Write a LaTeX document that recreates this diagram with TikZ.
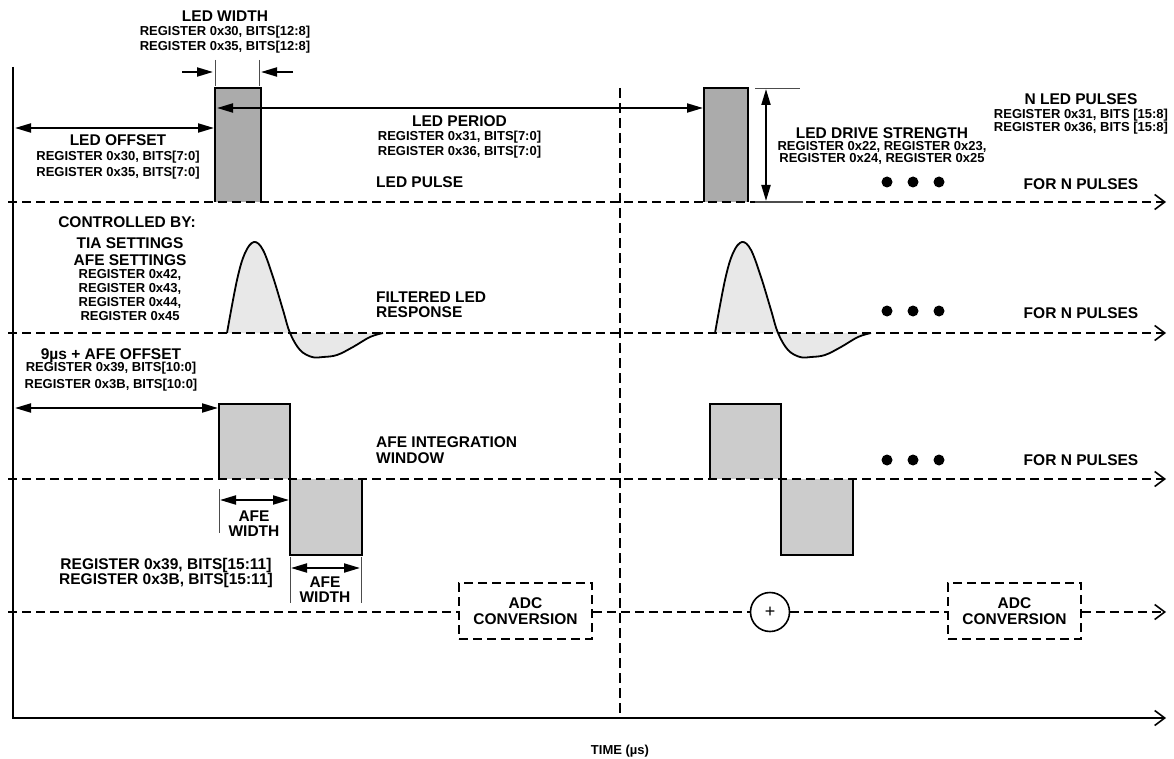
\documentclass[tikz,border=0pt]{standalone}
\usepackage{fontspec}
\setmainfont{Liberation Sans}
\usetikzlibrary{arrows.meta}
\tikzset{
  big/.style={font=\fontsize{15.5}{16}\selectfont\bfseries, inner sep=0pt, anchor=base},
  reg/.style={font=\fontsize{13}{15}\selectfont\bfseries, inner sep=0pt, anchor=base},
  basedash/.style={line width=1.7pt, dash pattern=on 9pt off 5pt},
  openarrow/.style={-{Straight Barb[length=10pt,width=15pt,line width=1.6pt]}},
  dimarrow/.style={line width=2pt, {Triangle[length=16pt,width=9pt]}-{Triangle[length=16pt,width=9pt]}},
  onearrow/.style={line width=2pt, -{Triangle[length=16pt,width=9pt]}},
  tick/.style={line width=1pt, draw=black!70},
  ledfill/.style={fill=black!33},
  afefill/.style={fill=black!20},
  wavefill/.style={fill=black!9},
  edge/.style={line width=2pt, line join=miter},
  adcbox/.style={draw, basedash, minimum width=133pt, minimum height=56pt, align=center,
     font=\fontsize{15.5}{16}\selectfont\bfseries, inner sep=0pt},
  sumnode/.style={circle, draw, line width=1.6pt, minimum size=39pt, inner sep=0pt,
     font=\fontsize{18}{18}\selectfont},
  dot/.style={circle, fill=black, inner sep=0pt, minimum size=11pt},
}
\begin{document}
\begin{tikzpicture}[x=1pt,y=-1pt]
\useasboundingbox (0,0) rectangle (1174,759);

% ---------- coordinates ----------
\coordinate (axtop) at (13,67);
\coordinate (axorg) at (13,718);
\coordinate (axend) at (1166,718);
\coordinate (vtop) at (620,88);
\coordinate (vbot) at (620,718);

% ---------- fills ----------
\fill[ledfill] (215,88) rectangle (261,202);
\fill[ledfill] (704,88) rectangle (748,202);
\fill[afefill] (219,404) rectangle (290,479);
\fill[afefill] (290,479) rectangle (362,555);
\fill[afefill] (710,404) rectangle (781,479);
\fill[afefill] (781,479) rectangle (853,555);
\foreach \s in {0,488}{
  \begin{scope}[xshift=\s pt]
  \fill[wavefill] plot[smooth, tension=0.6] coordinates {(227,333) (237,280) (245,253) (254,242) (263,250) (273,277) (283,310) (290,333) (300,350) (312,357) (323,357) (337,355) (353,347) (370,337) (383,333)} -- cycle;
  \end{scope}
}

% ---------- axes ----------
\draw[line width=2pt, openarrow] (axtop) -- (axorg) -- (axend);
\draw[line width=1.2pt, dash pattern=on 10pt off 5pt] (vtop) -- (vbot);

% ---------- baselines ----------
\coordinate (b1s) at (8,202);  \coordinate (b1e) at (1166,202);
\coordinate (b2s) at (8,333);  \coordinate (b2e) at (1166,333);
\coordinate (b3s) at (8,479);  \coordinate (b3e) at (1166,479);
\coordinate (b4s) at (8,612);  \coordinate (b4e) at (1166,612);
\draw[basedash, openarrow] (b1s) -- (b1e);
\draw[basedash, openarrow] (b2s) -- (b2e);
\draw[basedash, openarrow] (b3s) -- (b3e);

% ---------- LED pulses ----------
\draw[edge] (215,202) -- (215,88) -- (261,88) -- (261,202);
\draw[edge] (704,202) -- (704,88) -- (748,88) -- (748,202);

% ---------- waveforms ----------
\foreach \s in {0,488}{
  \begin{scope}[xshift=\s pt]
  \draw[line width=1.8pt] plot[smooth, tension=0.6] coordinates {(227,333) (237,280) (245,253) (254,242) (263,250) (273,277) (283,310) (290,333) (300,350) (312,357) (323,357) (337,355) (353,347) (370,337) (383,333)};
  \end{scope}
}

% ---------- AFE windows ----------
\draw[edge] (219,479) -- (219,404) -- (290,404) -- (290,555) -- (362,555) -- (362,479);
\draw[edge] (710,479) -- (710,404) -- (781,404) -- (781,555) -- (853,555) -- (853,479);

% ---------- LED width ----------
\coordinate (lw1t) at (215,60); \coordinate (lw1b) at (215,86);
\coordinate (lw2t) at (259,60); \coordinate (lw2b) at (259,86);
\draw[tick] (lw1t) -- (lw1b);
\draw[tick] (lw2t) -- (lw2b);
\coordinate (lwa1) at (182,72); \coordinate (lwa2) at (213,72);
\coordinate (lwb1) at (293,72); \coordinate (lwb2) at (261,72);
\draw[onearrow] (lwa1) -- (lwa2);
\draw[onearrow] (lwb1) -- (lwb2);
\node[big] (lwt) at (225,21.5) {LED WIDTH};
\node[reg] (lwr1) at (225,35.7) {REGISTER 0x30, BITS[12:8]};
\node[reg] (lwr2) at (225,50.7) {REGISTER 0x35, BITS[12:8]};

% ---------- LED offset ----------
\coordinate (lo1) at (15,128); \coordinate (lo2) at (214,128);
\draw[dimarrow] (lo1) -- (lo2);
\node[big] (lot) at (118,145.5) {LED OFFSET};
\node[reg] (lor1) at (118,160.7) {REGISTER 0x30, BITS[7:0]};
\node[reg] (lor2) at (118,176.7) {REGISTER 0x35, BITS[7:0]};

% ---------- LED period ----------
\coordinate (lp1) at (217,108); \coordinate (lp2) at (703,108);
\draw[dimarrow] (lp1) -- (lp2);
\node[big] (lpt) at (459.5,126.5) {LED PERIOD};
\node[reg] (lpr1) at (459.5,140.7) {REGISTER 0x31, BITS[7:0]};
\node[reg] (lpr2) at (459.5,155.7) {REGISTER 0x36, BITS[7:0]};
\node[big, anchor=base west] (lpulse) at (376,187.5) {LED PULSE};

% ---------- LED drive strength ----------
\coordinate (ds1) at (755,89); \coordinate (ds2) at (800,89);
\coordinate (ds3) at (755,202); \coordinate (ds4) at (803,202);
\draw[tick] (ds1) -- (ds2);
\draw[tick, line width=1.5pt] (ds3) -- (ds4);
\coordinate (dsa) at (766,89); \coordinate (dsb) at (766,201);
\draw[dimarrow] (dsa) -- (dsb);
\node[big] (dst) at (882,138.5) {LED DRIVE STRENGTH};
\node[reg] (dsr1) at (882,150.7) {REGISTER 0x22, REGISTER 0x23,};
\node[reg] (dsr2) at (882,162.7) {REGISTER 0x24, REGISTER 0x25};

% ---------- N LED pulses ----------
\node[big] (nlt) at (1081,104.5) {N LED PULSES};
\node[reg] (nlr1) at (1081,118.7) {REGISTER 0x31, BITS [15:8]};
\node[reg] (nlr2) at (1081,131.7) {REGISTER 0x36, BITS [15:8]};

% ---------- dots and FOR N PULSES ----------
\foreach \yy/\n in {182/1,311/2,460/3}{
  \node[dot] (d\n a) at (887,\yy) {};
  \node[dot] (d\n b) at (913,\yy) {};
  \node[dot] (d\n c) at (939,\yy) {};
}
\node[big] (fn1) at (1081,189.5) {FOR N PULSES};
\node[big] (fn2) at (1081,318.5) {FOR N PULSES};
\node[big] (fn3) at (1081,465.5) {FOR N PULSES};

% ---------- controlled by ----------
\node[big] (cb) at (127,227.5) {CONTROLLED BY:};
\node[big] (tia) at (130,248.5) {TIA SETTINGS};
\node[big] (afes) at (130,265.5) {AFE SETTINGS};
\node[reg] (cr1) at (130,278.2) {REGISTER 0x42,};
\node[reg] (cr2) at (130,292.2) {REGISTER 0x43,};
\node[reg] (cr3) at (130,306.2) {REGISTER 0x44,};
\node[reg] (cr4) at (130,320.2) {REGISTER 0x45};
\node[big, anchor=base west] (flr1) at (376,302.5) {FILTERED LED};
\node[big, anchor=base west] (flr2) at (376,317.5) {RESPONSE};

% ---------- AFE offset ----------
\node[big] (aot) at (111,359.5) {9µs + AFE OFFSET};
\node[reg] (aor1) at (111,371.7) {REGISTER 0x39, BITS[10:0]};
\node[reg] (aor2) at (111,388.7) {REGISTER 0x3B, BITS[10:0]};
\coordinate (ao1) at (15,408); \coordinate (ao2) at (218,408);
\draw[dimarrow] (ao1) -- (ao2);
\node[big, anchor=base west] (aiw1) at (376,447.5) {AFE INTEGRATION};
\node[big, anchor=base west] (aiw2) at (376,463.5) {WINDOW};

% ---------- AFE widths ----------
\coordinate (aw1t) at (219,489); \coordinate (aw1b) at (219,533);
\draw[tick] (aw1t) -- (aw1b);
\coordinate (aw1a) at (220,500); \coordinate (aw1c) at (289,500);
\draw[dimarrow] (aw1a) -- (aw1c);
\node[big] (aw1l1) at (254,521.5) {AFE};
\node[big] (aw1l2) at (254,536.5) {WIDTH};

\coordinate (aw2t) at (290,557); \coordinate (aw2b) at (290,603);
\coordinate (aw3t) at (361,557); \coordinate (aw3b) at (361,603);
\draw[tick] (aw2t) -- (aw2b);
\draw[tick] (aw3t) -- (aw3b);
\coordinate (aw2a) at (291,568); \coordinate (aw2c) at (360,568);
\draw[dimarrow] (aw2a) -- (aw2c);
\node[big] (aw2l1) at (325,587.5) {AFE};
\node[big] (aw2l2) at (325,602.5) {WIDTH};

\node[big] (awr1) at (166,569.5) {REGISTER 0x39, BITS[15:11]};
\node[big] (awr2) at (166,584.5) {REGISTER 0x3B, BITS[15:11]};

% ---------- ADC row ----------
\node[adcbox] (adc1) at (525.5,611) {ADC\\CONVERSION};
\node[adcbox] (adc2) at (1014.5,611) {ADC\\CONVERSION};
\node[sumnode] (plus) at (770,612) {+};
\draw[basedash] (b4s) -- (adc1.west |- b4s);
\draw[basedash] (adc1.east |- b4s) -- (plus.west);
\draw[basedash] (plus.east) -- (adc2.west |- b4s);
\draw[basedash, openarrow] (adc2.east |- b4s) -- (b4e);

% ---------- time label ----------
\node[reg] (time) at (620,754.7) {TIME (µs)};
\end{tikzpicture}
\end{document}
